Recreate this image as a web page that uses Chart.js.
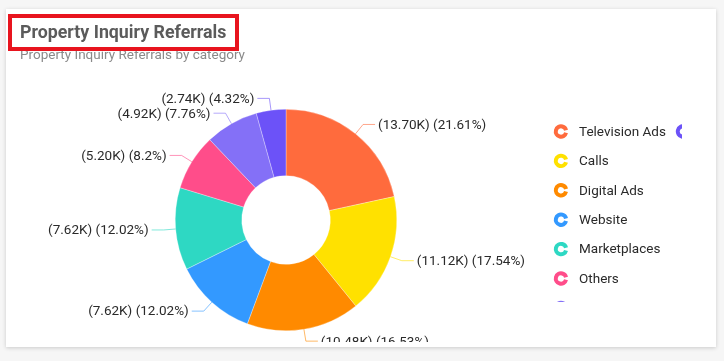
<!DOCTYPE html>
<html>
<head>
<meta charset="utf-8">
<script src="https://cdn.jsdelivr.net/npm/chart.js@4.4.1/dist/chart.umd.min.js"></script>
<style>
    body { margin: 0; background: #f6f6f6; font-family: Roboto, sans-serif; }
    .card {
        position: absolute; left: 6px; top: 9px; width: 710px; height: 338px;
        background: #fff; overflow: hidden;
        box-shadow: 0 1px 4px rgba(0, 0, 0, 0.18);
    }
    .titulo {
        position: absolute; left: 14px; top: 12px;
        font-size: 17.8px; font-weight: bold; color: #5b5b5b; line-height: 22px;
    }
    .subtitulo {
        position: absolute; left: 14px; top: 37px;
        font-size: 13.5px; color: #8a8a8a; line-height: 16px;
    }
    .marco {
        position: absolute; left: 8px; top: 14px; width: 231px; height: 37px;
        border: 4px solid #e8141e; box-sizing: border-box;
    }
    .lienzo { position: absolute; left: 0; top: 0; width: 710px; height: 333px; overflow: hidden; }
    .lienzo canvas { width: 710px; height: 336px; }
</style>
</head>
<body>
<div class="card">
    <div class="lienzo"><div style="width:710px;height:336px;position:relative"><canvas id="myChart"></canvas></div></div>
    <div class="titulo">Property Inquiry Referrals</div>
    <div class="subtitulo">Property Inquiry Referrals by category</div>
</div>
<div class="marco"></div>

<script>
const categorias = ['Television Ads', 'Calls', 'Digital Ads', 'Website', 'Marketplaces', 'Others', 'Social Media', 'Print Ads'];
const valoresK = [13.70, 11.12, 10.48, 7.62, 7.62, 5.20, 4.92, 2.74];
const colores = ['#ff6b3d', '#ffe100', '#ff8a00', '#3399ff', '#2ed8c3', '#ff4d8a', '#8470f7', '#6c52f8'];

const total = valoresK.reduce((a, b) => a + b, 0);

// etiquetas externas con linea guia
const etiquetas = {
    id: 'etiquetas',
    afterDatasetsDraw(chart) {
        const ctx = chart.ctx;
        const meta = chart.getDatasetMeta(0);
        ctx.save();
        ctx.font = '13.5px Roboto';
        ctx.textBaseline = 'middle';
        meta.data.forEach((arc, i) => {
            const p = arc.getProps(['x', 'y', 'startAngle', 'endAngle', 'outerRadius'], true);
            const a = (p.startAngle + p.endAngle) / 2;
            const cos = Math.cos(a), sin = Math.sin(a);
            const x0 = p.x + p.outerRadius * cos;
            const y0 = p.y + p.outerRadius * sin;
            const x1 = p.x + (p.outerRadius + 12) * cos;
            const y1 = p.y + (p.outerRadius + 12) * sin;
            const lado = cos >= 0 ? 1 : -1;
            const x2 = x1 + 12 * lado;

            ctx.globalAlpha = 0.6;
            ctx.strokeStyle = colores[i];
            ctx.lineWidth = 1;
            ctx.beginPath();
            ctx.moveTo(x0, y0);
            ctx.lineTo(x1, y1);
            ctx.lineTo(x2, y1);
            ctx.stroke();

            ctx.globalAlpha = 1;
            const pct = Number((valoresK[i] / total * 100).toFixed(2));
            const texto = '(' + valoresK[i].toFixed(2) + 'K) (' + pct + '%)';
            ctx.fillStyle = '#2a2a2a';
            ctx.textAlign = lado > 0 ? 'left' : 'right';
            ctx.fillText(texto, x2 + 3 * lado, y1 + 1);
        });
        ctx.restore();
    }
};

// leyenda a la derecha, paginada en columnas de 7
const leyenda = {
    id: 'leyenda',
    afterDraw(chart) {
        const ctx = chart.ctx;
        ctx.save();
        ctx.beginPath();
        ctx.rect(530, 100, 146, 193);
        ctx.clip();
        ctx.font = '13.5px Roboto';
        ctx.textBaseline = 'middle';
        ctx.textAlign = 'left';
        categorias.forEach((nombre, i) => {
            const col = Math.floor(i / 7);
            const fila = i % 7;
            const cx = 555 + col * 122;
            const cy = 122.5 + fila * 29.4;
            ctx.strokeStyle = colores[i];
            ctx.lineWidth = 4;
            ctx.beginPath();
            ctx.arc(cx, cy, 5.2, 0.25, Math.PI * 2 - 0.25);
            ctx.stroke();
            ctx.fillStyle = '#2a2a2a';
            ctx.fillText(nombre, cx + 18, cy + 1);
        });
        ctx.restore();
    }
};

const ctx = document.getElementById('myChart');

new Chart(ctx, {
    type: 'doughnut',
    data: {
        labels: categorias,
        datasets: [{
            data: valoresK,
            backgroundColor: colores,
            borderColor: 'rgba(255,255,255,0.6)',
            borderWidth: 0.5,
            hoverOffset: 0
        }]
    },
    options: {
        responsive: true,
        maintainAspectRatio: false,
        animation: false,
        cutout: '40%',
        layout: {
            padding: { left: 169, top: 100, right: 319, bottom: 14 }
        },
        plugins: {
            legend: { display: false },
            tooltip: { enabled: false }
        }
    },
    plugins: [etiquetas, leyenda]
});
</script>
</body>
</html>
